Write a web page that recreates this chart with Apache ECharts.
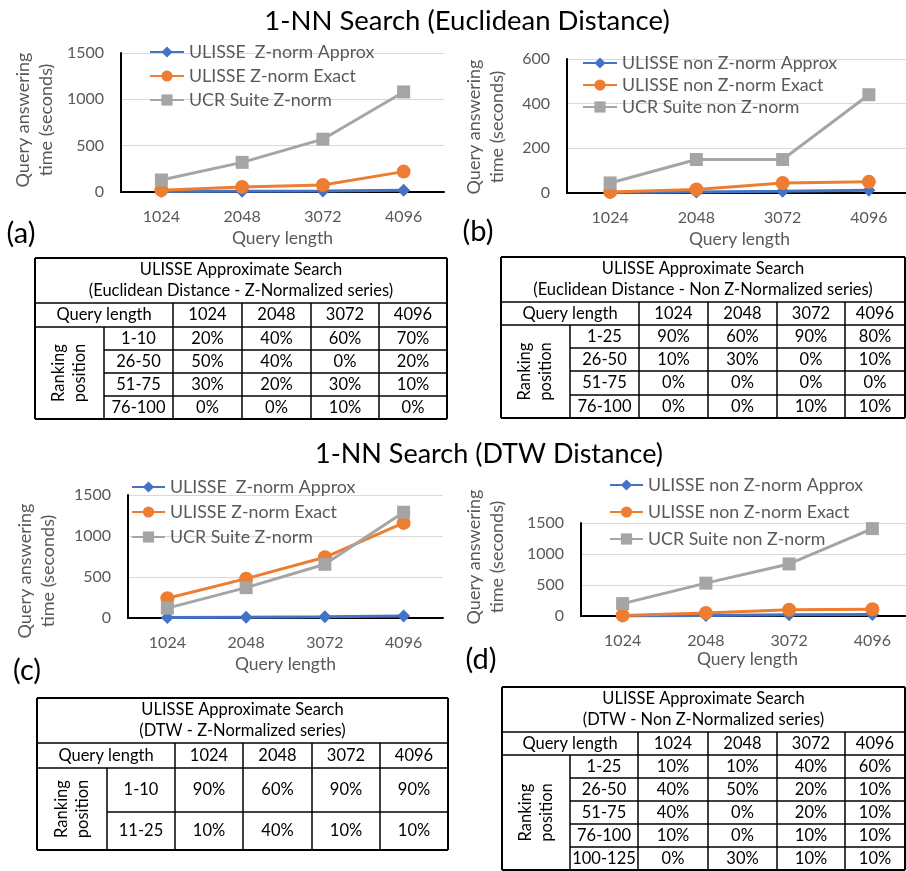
<!DOCTYPE html>
<html><head><meta charset="utf-8">
<script src="https://cdn.jsdelivr.net/npm/echarts@6/dist/echarts.min.js"></script>
<style>html,body{margin:0;padding:0;background:#fff}#c{width:906px;height:871px}</style>
</head><body><div id="c"></div>
<script>
// ---------- data ----------
const queryLengths = ['1024', '2048', '3072', '4096'];

// (a) 1-NN Euclidean, Z-normalized
const edZApprox = [5, 8, 10, 20];
const edZExact = [20, 55, 75, 220];
const edZUcr = [130, 320, 570, 1080];
// (b) 1-NN Euclidean, non Z-normalized
const edNApprox = [2, 5, 8, 12];
const edNExact = [5, 16, 45, 50];
const edNUcr = [45, 150, 150, 440];
// (c) 1-NN DTW, Z-normalized
const dtwZApprox = [5, 10, 15, 25];
const dtwZExact = [240, 480, 740, 1160];
const dtwZUcr = [120, 370, 655, 1290];
// (d) 1-NN DTW, non Z-normalized
const dtwNApprox = [2, 10, 20, 25];
const dtwNExact = [10, 50, 100, 110];
const dtwNUcr = [200, 530, 840, 1410];

const namesZ = ['ULISSE  Z-norm Approx', 'ULISSE Z-norm Exact', 'UCR Suite Z-norm'];
const namesN = ['ULISSE non Z-norm Approx', 'ULISSE non Z-norm Exact', 'UCR Suite non Z-norm'];

const titleTop = '1-NN Search (Euclidean Distance)';
const titleBottom = '1-NN Search (DTW Distance)';
const xName = 'Query length';
const yName = 'Query answering\ntime (seconds)';
const panelLabels = ['(a)', '(b)', '(c)', '(d)'];

// tables
const tableHeadA = ['ULISSE Approximate Search', '(Euclidean Distance - Z-Normalized series)'];
const tableRanksA = ['1-10', '26-50', '51-75', '76-100'];
const tableValsA = [['20%', '40%', '60%', '70%'], ['50%', '40%', '0%', '20%'], ['30%', '20%', '30%', '10%'], ['0%', '0%', '10%', '0%']];

const tableHeadB = ['ULISSE Approximate Search', '(Euclidean Distance - Non Z-Normalized series)'];
const tableRanksB = ['1-25', '26-50', '51-75', '76-100'];
const tableValsB = [['90%', '60%', '90%', '80%'], ['10%', '30%', '0%', '10%'], ['0%', '0%', '0%', '0%'], ['0%', '0%', '10%', '10%']];

const tableHeadC = ['ULISSE Approximate Search', '(DTW - Z-Normalized series)'];
const tableRanksC = ['1-10', '11-25'];
const tableValsC = [['90%', '60%', '90%', '90%'], ['10%', '40%', '10%', '10%']];

const tableHeadD = ['ULISSE Approximate Search', '(DTW - Non Z-Normalized series)'];
const tableRanksD = ['1-25', '26-50', '51-75', '76-100', '100-125'];
const tableValsD = [['10%', '10%', '40%', '60%'], ['40%', '50%', '20%', '10%'], ['40%', '0%', '20%', '10%'], ['10%', '0%', '10%', '10%'], ['0%', '30%', '10%', '10%']];

const qlLabel = 'Query length';
const rankLabel = 'Ranking\nposition';

// ---------- styling / layout ----------
const FF = 'Lato, sans-serif';
const GRAY_TXT = '#595959';
const C_BLUE = '#4472C4', C_ORANGE = '#ED7D31', C_GRAY = '#A5A5A5';

function tableElements(head, ranks, vals, xs, ys) {
  const els = [];
  const x0 = xs[0], x1 = xs[xs.length - 1], y0 = ys[0], y1 = ys[ys.length - 1];
  const ln = (a, b, c, d, w) => els.push({ type: 'line', shape: { x1: a, y1: b, x2: c, y2: d }, style: { stroke: '#000', lineWidth: w || 1.5 } });
  const tx = (text, x, y, extra) => els.push(Object.assign({
    type: 'text', x: x, y: y,
    style: { text: text, fill: '#000', fontSize: 16.5, fontFamily: FF, align: 'center', verticalAlign: 'middle', lineHeight: 21 }
  }, extra || {}));
  ln(x0, y0, x1, y0, 2); ln(x0, y1, x1, y1, 2); ln(x0, y0, x0, y1, 2); ln(x1, y0, x1, y1, 2);
  ln(x0, ys[1], x1, ys[1]); ln(x0, ys[2], x1, ys[2]);
  for (let i = 3; i < ys.length - 1; i++) ln(xs[1], ys[i], x1, ys[i]);
  ln(xs[1], ys[2], xs[1], y1);
  for (let j = 2; j < xs.length - 1; j++) ln(xs[j], ys[1], xs[j], y1);
  tx(head.join('\n'), (x0 + x1) / 2, (ys[0] + ys[1]) / 2);
  tx(qlLabel, (xs[0] + xs[2]) / 2, (ys[1] + ys[2]) / 2);
  queryLengths.forEach((q, j) => tx(q, (xs[j + 2] + xs[j + 3]) / 2, (ys[1] + ys[2]) / 2));
  tx(rankLabel, (xs[0] + xs[1]) / 2, (ys[2] + y1) / 2, { rotation: Math.PI / 2 });
  ranks.forEach((r, i) => {
    const cy = (ys[i + 2] + ys[i + 3]) / 2;
    tx(r, (xs[1] + xs[2]) / 2, cy);
    vals[i].forEach((v, j) => tx(v, (xs[j + 2] + xs[j + 3]) / 2, cy));
  });
  return els;
}

const grids = [
  { left: 121, top: 53, width: 323, height: 139 },
  { left: 567, top: 59, width: 345, height: 134 },
  { left: 128, top: 495, width: 315, height: 123 },
  { left: 581, top: 523, width: 333, height: 93 }
];
grids.forEach(g => { g.outerBoundsMode = 'none'; g.containLabel = false; });

function xAx(gi, nameGap) {
  return {
    type: 'category', gridIndex: gi, data: queryLengths, boundaryGap: true,
    axisLine: { show: true, lineStyle: { color: '#000', width: 2 } },
    axisTick: { show: false },
    axisLabel: { color: GRAY_TXT, fontSize: 16, fontFamily: FF, margin: 17 },
    splitLine: { show: false },
    name: xName, nameLocation: 'middle', nameGap: nameGap,
    nameTextStyle: { color: GRAY_TXT, fontSize: 17.5, fontFamily: FF }
  };
}
function yAx(gi, max, interval) {
  return {
    type: 'value', gridIndex: gi, min: 0, max: max, interval: interval,
    axisLine: { show: true, lineStyle: { color: '#000', width: 2 } },
    axisTick: { show: false },
    axisLabel: { color: GRAY_TXT, fontSize: 16, fontFamily: FF, margin: 17, formatter: v => String(v) },
    splitLine: { show: true, lineStyle: { color: '#d9d9d9', width: 1 } }
  };
}
function ser(name, data, gi, color, symbol, size) {
  return {
    type: 'line', name: name, data: data, xAxisIndex: gi, yAxisIndex: gi,
    symbol: symbol, symbolSize: size, showSymbol: true,
    lineStyle: { color: color, width: 3 }, itemStyle: { color: color },
    emphasis: { disabled: true }
  };
}
function leg(names, left, top, w, gap) {
  return {
    data: names, orient: 'vertical', left: left, top: top, padding: 0, itemWidth: w, itemHeight: 14, itemGap: gap,
    textStyle: { color: GRAY_TXT, fontSize: 17.8, fontFamily: FF }, selectedMode: false
  };
}

const graphics = []
  .concat(tableElements(tableHeadA, tableRanksA, tableValsA, [35, 104, 173, 242, 311, 379, 447], [258, 303, 327, 350, 373, 396, 419]))
  .concat(tableElements(tableHeadB, tableRanksB, tableValsB, [501, 570, 639, 708, 777, 845, 905], [257, 302, 325, 348, 371, 395, 418]))
  .concat(tableElements(tableHeadC, tableRanksC, tableValsC, [37, 107, 175, 243, 312, 380, 448], [698, 743, 768, 812, 850]))
  .concat(tableElements(tableHeadD, tableRanksD, tableValsD, [502, 570, 638, 708, 777, 845, 905], [687, 732, 755, 778, 801, 824, 847, 870]));

// y-axis titles (rotated, two lines)
const yNamePos = [[35, 120], [486, 127], [37, 571], [486, 557]];
yNamePos.forEach(p => graphics.push({
  type: 'text', x: p[0], y: p[1], rotation: Math.PI / 2,
  style: { text: yName, fill: GRAY_TXT, fontSize: 18, fontFamily: FF, align: 'center', verticalAlign: 'middle', lineHeight: 23 }
}));

const panelPos = [[21, 234], [478, 232], [27, 671], [481, 660]];
panelLabels.forEach((p, i) => graphics.push({
  type: 'text', x: panelPos[i][0], y: panelPos[i][1],
  style: { text: p, fill: '#000', fontSize: 29, fontFamily: FF, align: 'center', verticalAlign: 'middle' }
}));

const option = {
  animation: false,
  textStyle: { fontFamily: FF },
  title: [
    { text: titleTop, left: 462, top: 2, textAlign: 'center', textStyle: { fontSize: 27.5, fontWeight: 'normal', color: '#000', fontFamily: FF } },
    { text: titleBottom, left: 484, top: 436, textAlign: 'center', textStyle: { fontSize: 27, fontWeight: 'normal', color: '#000', fontFamily: FF } }
  ],
  grid: grids,
  xAxis: [xAx(0, 37), xAx(1, 37), xAx(2, 37), xAx(3, 34)],
  yAxis: [yAx(0, 1500, 500), yAx(1, 600, 200), yAx(2, 1500, 500), yAx(3, 1500, 500)],
  legend: [
    leg(namesZ, 149, 43, 34, 6),
    leg(namesN, 582, 54, 34, 4),
    leg(namesZ, 131, 478, 33, 7),
    leg(namesN, 609, 476, 33, 9)
  ],
  series: [
    ser(namesZ[0], edZApprox, 0, C_BLUE, 'diamond', 13),
    ser(namesZ[1], edZExact, 0, C_ORANGE, 'circle', 14),
    ser(namesZ[2], edZUcr, 0, C_GRAY, 'rect', 13),
    ser(namesN[0], edNApprox, 1, C_BLUE, 'diamond', 13),
    ser(namesN[1], edNExact, 1, C_ORANGE, 'circle', 14),
    ser(namesN[2], edNUcr, 1, C_GRAY, 'rect', 13),
    ser(namesZ[0], dtwZApprox, 2, C_BLUE, 'diamond', 13),
    ser(namesZ[1], dtwZExact, 2, C_ORANGE, 'circle', 14),
    ser(namesZ[2], dtwZUcr, 2, C_GRAY, 'rect', 13),
    ser(namesN[0], dtwNApprox, 3, C_BLUE, 'diamond', 13),
    ser(namesN[1], dtwNExact, 3, C_ORANGE, 'circle', 14),
    ser(namesN[2], dtwNUcr, 3, C_GRAY, 'rect', 13)
  ],
  graphic: graphics
};
const chart = echarts.init(document.getElementById('c'), null, { renderer: 'canvas' });
chart.setOption(option);
</script>
</body></html>
